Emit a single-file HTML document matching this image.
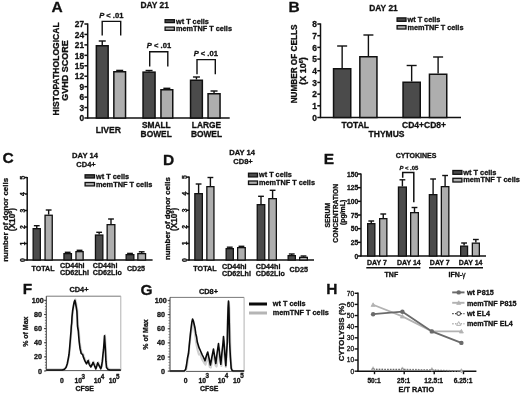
<!DOCTYPE html>
<html><head><meta charset="utf-8"><title>Figure</title>
<style>
html,body{margin:0;padding:0;background:#fff;overflow:hidden;}
svg{display:block;position:absolute;left:0;top:0;font-family:"Liberation Sans",sans-serif;will-change:transform;}
text{stroke:#111;stroke-width:0.3px;stroke-linejoin:round;}
</style></head>
<body>
<svg width="520" height="393" viewBox="0 0 520 393">
<rect width="520" height="393" fill="#fff"/>
<text x="51.5" y="12.3" font-size="15.5" text-anchor="start" font-weight="bold" fill="#111" >A</text>
<text x="154.6" y="8.3" font-size="8.4" text-anchor="middle" font-weight="bold" fill="#111" >DAY 21</text>
<line x1="87.7" y1="23.4" x2="87.7" y2="118.6" stroke="#111" stroke-width="1.5" />
<line x1="84.4" y1="118.0" x2="87.7" y2="118.0" stroke="#111" stroke-width="1.5" />
<text x="84.10000000000001" y="121.1955" font-size="8.3" text-anchor="end" font-weight="bold" fill="#111" >0</text>
<line x1="84.4" y1="107.55555555555556" x2="87.7" y2="107.55555555555556" stroke="#111" stroke-width="1.5" />
<text x="84.10000000000001" y="110.75105555555555" font-size="8.3" text-anchor="end" font-weight="bold" fill="#111" >3</text>
<line x1="84.4" y1="97.11111111111111" x2="87.7" y2="97.11111111111111" stroke="#111" stroke-width="1.5" />
<text x="84.10000000000001" y="100.30661111111111" font-size="8.3" text-anchor="end" font-weight="bold" fill="#111" >6</text>
<line x1="84.4" y1="86.66666666666667" x2="87.7" y2="86.66666666666667" stroke="#111" stroke-width="1.5" />
<text x="84.10000000000001" y="89.86216666666667" font-size="8.3" text-anchor="end" font-weight="bold" fill="#111" >9</text>
<line x1="84.4" y1="76.22222222222223" x2="87.7" y2="76.22222222222223" stroke="#111" stroke-width="1.5" />
<text x="84.10000000000001" y="79.41772222222222" font-size="8.3" text-anchor="end" font-weight="bold" fill="#111" >12</text>
<line x1="84.4" y1="65.77777777777777" x2="87.7" y2="65.77777777777777" stroke="#111" stroke-width="1.5" />
<text x="84.10000000000001" y="68.97327777777777" font-size="8.3" text-anchor="end" font-weight="bold" fill="#111" >15</text>
<line x1="84.4" y1="55.333333333333336" x2="87.7" y2="55.333333333333336" stroke="#111" stroke-width="1.5" />
<text x="84.10000000000001" y="58.52883333333334" font-size="8.3" text-anchor="end" font-weight="bold" fill="#111" >18</text>
<line x1="84.4" y1="44.888888888888886" x2="87.7" y2="44.888888888888886" stroke="#111" stroke-width="1.5" />
<text x="84.10000000000001" y="48.08438888888889" font-size="8.3" text-anchor="end" font-weight="bold" fill="#111" >21</text>
<line x1="84.4" y1="34.44444444444444" x2="87.7" y2="34.44444444444444" stroke="#111" stroke-width="1.5" />
<text x="84.10000000000001" y="37.639944444444446" font-size="8.3" text-anchor="end" font-weight="bold" fill="#111" >24</text>
<line x1="84.4" y1="24.0" x2="87.7" y2="24.0" stroke="#111" stroke-width="1.5" />
<text x="84.10000000000001" y="27.1955" font-size="8.3" text-anchor="end" font-weight="bold" fill="#111" >27</text>
<line x1="87.1" y1="118" x2="229.7" y2="118" stroke="#111" stroke-width="1.5" />
<text transform="translate(58.8,68.9) rotate(-90)" font-size="8.55" text-anchor="middle" font-weight="bold" fill="#111">HISTOPATHOLOGICAL</text>
<text transform="translate(67.8,70.4) rotate(-90)" font-size="9" text-anchor="middle" font-weight="bold" fill="#111">GVHD SCORE</text>
<line x1="102.25" y1="45" x2="102.25" y2="41" stroke="#111" stroke-width="1.4" />
<line x1="98.75" y1="41" x2="105.75" y2="41" stroke="#111" stroke-width="1.4" />
<rect x="96.35" y="45.75" width="11.800000000000011" height="72.25" fill="#4b4b4b" stroke="#111" stroke-width="1.5"/>
<line x1="119.69999999999999" y1="71" x2="119.69999999999999" y2="70.4" stroke="#111" stroke-width="1.4" />
<line x1="116.19999999999999" y1="70.4" x2="123.19999999999999" y2="70.4" stroke="#111" stroke-width="1.4" />
<rect x="113.85" y="71.75" width="11.700000000000003" height="46.25" fill="#aeaeae" stroke="#111" stroke-width="1.5"/>
<line x1="149.05" y1="71.4" x2="149.05" y2="70.5" stroke="#111" stroke-width="1.4" />
<line x1="145.55" y1="70.5" x2="152.55" y2="70.5" stroke="#111" stroke-width="1.4" />
<rect x="143.05" y="72.15" width="12.0" height="45.849999999999994" fill="#4b4b4b" stroke="#111" stroke-width="1.5"/>
<line x1="166.85" y1="89" x2="166.85" y2="88.3" stroke="#111" stroke-width="1.4" />
<line x1="163.35" y1="88.3" x2="170.35" y2="88.3" stroke="#111" stroke-width="1.4" />
<rect x="160.95" y="89.75" width="11.800000000000011" height="28.25" fill="#aeaeae" stroke="#111" stroke-width="1.5"/>
<line x1="196.45" y1="79.5" x2="196.45" y2="77" stroke="#111" stroke-width="1.4" />
<line x1="192.95" y1="77" x2="199.95" y2="77" stroke="#111" stroke-width="1.4" />
<rect x="190.55" y="80.25" width="11.799999999999983" height="37.75" fill="#4b4b4b" stroke="#111" stroke-width="1.5"/>
<line x1="214.05" y1="93" x2="214.05" y2="91" stroke="#111" stroke-width="1.4" />
<line x1="210.55" y1="91" x2="217.55" y2="91" stroke="#111" stroke-width="1.4" />
<rect x="208.05" y="93.75" width="12.0" height="24.25" fill="#aeaeae" stroke="#111" stroke-width="1.5"/>
<polyline points="102.2,35.5 102.2,21.4 120.7,21.4 120.7,35.5" fill="none" stroke="#111" stroke-width="1.4"/>
<text x="111.3" y="18.2" font-size="7.6" text-anchor="middle" font-weight="bold" fill="#111" ><tspan font-style="italic">P</tspan> &lt; .01</text>
<polyline points="149.7,66.4 149.7,51.7 167.8,51.7 167.8,66.4" fill="none" stroke="#111" stroke-width="1.4"/>
<text x="159" y="48" font-size="7.6" text-anchor="middle" font-weight="bold" fill="#111" ><tspan font-style="italic">P</tspan> &lt; .01</text>
<polyline points="197,74.2 197,59.6 215.3,59.6 215.3,74.2" fill="none" stroke="#111" stroke-width="1.4"/>
<text x="205.8" y="56" font-size="7.6" text-anchor="middle" font-weight="bold" fill="#111" ><tspan font-style="italic">P</tspan> &lt; .01</text>
<text x="108.4" y="132.5" font-size="8.6" text-anchor="middle" font-weight="bold" fill="#111" >LIVER</text>
<text x="156.3" y="127.6" font-size="8.4" text-anchor="middle" font-weight="bold" fill="#111" >SMALL</text>
<text x="156.2" y="137.3" font-size="8.4" text-anchor="middle" font-weight="bold" fill="#111" >BOWEL</text>
<text x="206.5" y="127.6" font-size="8.4" text-anchor="middle" font-weight="bold" fill="#111" >LARGE</text>
<text x="206.5" y="137.3" font-size="8.4" text-anchor="middle" font-weight="bold" fill="#111" >BOWEL</text>
<rect x="165.1" y="19.7" width="9.300000000000011" height="2.900000000000002" fill="#4b4b4b" stroke="#111" stroke-width="1.3"/>
<rect x="165.1" y="27.1" width="9.300000000000011" height="3.1999999999999993" fill="#aeaeae" stroke="#111" stroke-width="1.3"/>
<text x="176" y="23.6" font-size="7.3" text-anchor="start" font-weight="bold" fill="#111" >wt T cells</text>
<text x="176" y="31.0" font-size="7.3" text-anchor="start" font-weight="bold" fill="#111" >memTNF T cells</text>
<text x="288.5" y="12.3" font-size="15.5" text-anchor="start" font-weight="bold" fill="#111" >B</text>
<text x="369.3" y="11.3" font-size="8.4" text-anchor="start" font-weight="bold" fill="#111" >DAY 21</text>
<line x1="320.5" y1="23.4" x2="320.5" y2="118.1" stroke="#111" stroke-width="1.5" />
<line x1="317.3" y1="117.5" x2="320.5" y2="117.5" stroke="#111" stroke-width="1.5" />
<text x="317.0" y="120.734" font-size="8.4" text-anchor="end" font-weight="bold" fill="#111" >0</text>
<line x1="317.3" y1="105.8125" x2="320.5" y2="105.8125" stroke="#111" stroke-width="1.5" />
<text x="317.0" y="109.0465" font-size="8.4" text-anchor="end" font-weight="bold" fill="#111" >1</text>
<line x1="317.3" y1="94.125" x2="320.5" y2="94.125" stroke="#111" stroke-width="1.5" />
<text x="317.0" y="97.359" font-size="8.4" text-anchor="end" font-weight="bold" fill="#111" >2</text>
<line x1="317.3" y1="82.4375" x2="320.5" y2="82.4375" stroke="#111" stroke-width="1.5" />
<text x="317.0" y="85.6715" font-size="8.4" text-anchor="end" font-weight="bold" fill="#111" >3</text>
<line x1="317.3" y1="70.75" x2="320.5" y2="70.75" stroke="#111" stroke-width="1.5" />
<text x="317.0" y="73.984" font-size="8.4" text-anchor="end" font-weight="bold" fill="#111" >4</text>
<line x1="317.3" y1="59.0625" x2="320.5" y2="59.0625" stroke="#111" stroke-width="1.5" />
<text x="317.0" y="62.2965" font-size="8.4" text-anchor="end" font-weight="bold" fill="#111" >5</text>
<line x1="317.3" y1="47.375" x2="320.5" y2="47.375" stroke="#111" stroke-width="1.5" />
<text x="317.0" y="50.609" font-size="8.4" text-anchor="end" font-weight="bold" fill="#111" >6</text>
<line x1="317.3" y1="35.6875" x2="320.5" y2="35.6875" stroke="#111" stroke-width="1.5" />
<text x="317.0" y="38.9215" font-size="8.4" text-anchor="end" font-weight="bold" fill="#111" >7</text>
<line x1="317.3" y1="24.0" x2="320.5" y2="24.0" stroke="#111" stroke-width="1.5" />
<text x="317.0" y="27.234" font-size="8.4" text-anchor="end" font-weight="bold" fill="#111" >8</text>
<line x1="319.9" y1="117.5" x2="461" y2="117.5" stroke="#111" stroke-width="1.5" />
<text transform="translate(296.7,64) rotate(-90)" font-size="8.2" text-anchor="middle" font-weight="bold" fill="#111">NUMBER OF CELLS</text>
<text transform="translate(306.2,71) rotate(-90)" font-size="9" text-anchor="middle" font-weight="bold" fill="#111">(X 10<tspan font-size="5.5" dy="-3.4">6</tspan><tspan dy="3.4">)</tspan></text>
<line x1="342.15" y1="68" x2="342.15" y2="46" stroke="#111" stroke-width="1.4" />
<line x1="337.15" y1="46" x2="347.15" y2="46" stroke="#111" stroke-width="1.4" />
<rect x="333.55" y="68.75" width="17.19999999999999" height="48.75" fill="#4b4b4b" stroke="#111" stroke-width="1.5"/>
<line x1="368.4" y1="56" x2="368.4" y2="35" stroke="#111" stroke-width="1.4" />
<line x1="363.4" y1="35" x2="373.4" y2="35" stroke="#111" stroke-width="1.4" />
<rect x="359.85" y="56.75" width="17.099999999999966" height="60.75" fill="#aeaeae" stroke="#111" stroke-width="1.5"/>
<line x1="411.65" y1="81.5" x2="411.65" y2="65.5" stroke="#111" stroke-width="1.4" />
<line x1="406.65" y1="65.5" x2="416.65" y2="65.5" stroke="#111" stroke-width="1.4" />
<rect x="403.05" y="82.25" width="17.19999999999999" height="35.25" fill="#4b4b4b" stroke="#111" stroke-width="1.5"/>
<line x1="438.1" y1="73.5" x2="438.1" y2="57" stroke="#111" stroke-width="1.4" />
<line x1="433.1" y1="57" x2="443.1" y2="57" stroke="#111" stroke-width="1.4" />
<rect x="429.45" y="74.25" width="17.30000000000001" height="43.25" fill="#aeaeae" stroke="#111" stroke-width="1.5"/>
<text x="355.2" y="128.2" font-size="8.5" text-anchor="middle" font-weight="bold" fill="#111" >TOTAL</text>
<text x="386.5" y="136.7" font-size="8.5" text-anchor="middle" font-weight="bold" fill="#111" >THYMUS</text>
<text x="424" y="128.2" font-size="8.5" text-anchor="middle" font-weight="bold" fill="#111" >CD4+CD8+</text>
<rect x="397.1" y="17.9" width="8.899999999999977" height="3.400000000000002" fill="#4b4b4b" stroke="#111" stroke-width="1.3"/>
<rect x="397.1" y="25.6" width="8.899999999999977" height="3.3999999999999986" fill="#aeaeae" stroke="#111" stroke-width="1.3"/>
<text x="407.5" y="21.9" font-size="7.3" text-anchor="start" font-weight="bold" fill="#111" >wt T cells</text>
<text x="407.5" y="29.7" font-size="7.3" text-anchor="start" font-weight="bold" fill="#111" >memTNF T cells</text>
<text x="2.4" y="162.8" font-size="15.5" text-anchor="start" font-weight="bold" fill="#111" >C</text>
<text x="85" y="158.4" font-size="7.6" text-anchor="middle" font-weight="bold" fill="#111" >DAY 14</text>
<text x="86" y="167.3" font-size="7.5" text-anchor="middle" font-weight="bold" fill="#111" >CD4+</text>
<line x1="27.2" y1="176.9" x2="27.2" y2="260.6" stroke="#111" stroke-width="1.5" />
<line x1="24.8" y1="260.0" x2="27.2" y2="260.0" stroke="#111" stroke-width="1.5" />
<text transform="translate(25.0,260.0) rotate(-90)" font-size="6.8" text-anchor="middle" font-weight="bold" fill="#111">0</text>
<line x1="24.8" y1="243.5" x2="27.2" y2="243.5" stroke="#111" stroke-width="1.5" />
<text transform="translate(25.0,243.5) rotate(-90)" font-size="6.8" text-anchor="middle" font-weight="bold" fill="#111">1</text>
<line x1="24.8" y1="227.0" x2="27.2" y2="227.0" stroke="#111" stroke-width="1.5" />
<text transform="translate(25.0,227.0) rotate(-90)" font-size="6.8" text-anchor="middle" font-weight="bold" fill="#111">2</text>
<line x1="24.8" y1="210.5" x2="27.2" y2="210.5" stroke="#111" stroke-width="1.5" />
<text transform="translate(25.0,210.5) rotate(-90)" font-size="6.8" text-anchor="middle" font-weight="bold" fill="#111">3</text>
<line x1="24.8" y1="194.0" x2="27.2" y2="194.0" stroke="#111" stroke-width="1.5" />
<text transform="translate(25.0,194.0) rotate(-90)" font-size="6.8" text-anchor="middle" font-weight="bold" fill="#111">4</text>
<line x1="24.8" y1="177.5" x2="27.2" y2="177.5" stroke="#111" stroke-width="1.5" />
<text transform="translate(25.0,177.5) rotate(-90)" font-size="6.8" text-anchor="middle" font-weight="bold" fill="#111">5</text>
<line x1="26.5" y1="260" x2="152.6" y2="260" stroke="#111" stroke-width="1.5" />
<text transform="translate(8.3,219.8) rotate(-90)" font-size="8.0" text-anchor="middle" font-weight="bold" fill="#111">number of donor cells</text>
<text transform="translate(15.4,219.6) rotate(-90)" font-size="8.3" text-anchor="middle" font-weight="bold" fill="#111">(X10<tspan font-size="5.4" dy="-3.1">6</tspan><tspan dy="3.1">)</tspan></text>
<line x1="36.75" y1="228" x2="36.75" y2="225.7" stroke="#111" stroke-width="1.4" />
<line x1="33.85" y1="225.7" x2="39.65" y2="225.7" stroke="#111" stroke-width="1.4" />
<rect x="33.15" y="228.65" width="7.2" height="31.35" fill="#4b4b4b" stroke="#111" stroke-width="1.3"/>
<line x1="48.65" y1="214.6" x2="48.65" y2="210" stroke="#111" stroke-width="1.4" />
<line x1="45.75" y1="210" x2="51.55" y2="210" stroke="#111" stroke-width="1.4" />
<rect x="45.05" y="215.25" width="7.2" height="44.75000000000001" fill="#aeaeae" stroke="#111" stroke-width="1.3"/>
<line x1="67.69999999999999" y1="253" x2="67.69999999999999" y2="252.3" stroke="#111" stroke-width="1.4" />
<line x1="64.79999999999998" y1="252.3" x2="70.6" y2="252.3" stroke="#111" stroke-width="1.4" />
<rect x="63.949999999999996" y="253.65" width="7.499999999999997" height="6.35" fill="#4b4b4b" stroke="#111" stroke-width="1.3"/>
<line x1="79.55" y1="251" x2="79.55" y2="250.3" stroke="#111" stroke-width="1.4" />
<line x1="76.64999999999999" y1="250.3" x2="82.45" y2="250.3" stroke="#111" stroke-width="1.4" />
<rect x="75.95" y="251.65" width="7.2" height="8.35" fill="#aeaeae" stroke="#111" stroke-width="1.3"/>
<line x1="99.15" y1="234.4" x2="99.15" y2="232.3" stroke="#111" stroke-width="1.4" />
<line x1="96.25" y1="232.3" x2="102.05000000000001" y2="232.3" stroke="#111" stroke-width="1.4" />
<rect x="95.45" y="235.05" width="7.400000000000003" height="24.949999999999996" fill="#4b4b4b" stroke="#111" stroke-width="1.3"/>
<line x1="111.0" y1="224" x2="111.0" y2="219" stroke="#111" stroke-width="1.4" />
<line x1="108.1" y1="219" x2="113.9" y2="219" stroke="#111" stroke-width="1.4" />
<rect x="107.15" y="224.65" width="7.7" height="35.35" fill="#aeaeae" stroke="#111" stroke-width="1.3"/>
<line x1="130.0" y1="254" x2="130.0" y2="253.4" stroke="#111" stroke-width="1.4" />
<line x1="127.1" y1="253.4" x2="132.9" y2="253.4" stroke="#111" stroke-width="1.4" />
<rect x="126.15" y="254.65" width="7.7" height="5.35" fill="#4b4b4b" stroke="#111" stroke-width="1.3"/>
<line x1="141.7" y1="253" x2="141.7" y2="251.8" stroke="#111" stroke-width="1.4" />
<line x1="138.79999999999998" y1="251.8" x2="144.6" y2="251.8" stroke="#111" stroke-width="1.4" />
<rect x="137.85" y="253.65" width="7.7" height="6.35" fill="#aeaeae" stroke="#111" stroke-width="1.3"/>
<text x="43" y="270.6" font-size="7.1" text-anchor="middle" font-weight="bold" fill="#111" >TOTAL</text>
<text x="60" y="268.4" font-size="7.15" text-anchor="start" font-weight="bold" fill="#111" >CD44hi</text>
<text x="60" y="274.8" font-size="7.15" text-anchor="start" font-weight="bold" fill="#111" >CD62Lhi</text>
<text x="92.8" y="268.4" font-size="7.15" text-anchor="start" font-weight="bold" fill="#111" >CD44hi</text>
<text x="92.8" y="274.8" font-size="7.15" text-anchor="start" font-weight="bold" fill="#111" >CD62Llo</text>
<text x="136" y="271.1" font-size="7.1" text-anchor="middle" font-weight="bold" fill="#111" >CD25</text>
<rect x="85.1" y="174.8" width="9.400000000000006" height="3.1999999999999886" fill="#4b4b4b" stroke="#111" stroke-width="1.3"/>
<rect x="85.1" y="182.5" width="9.400000000000006" height="3.4000000000000057" fill="#aeaeae" stroke="#111" stroke-width="1.3"/>
<text x="96" y="178.8" font-size="7.35" text-anchor="start" font-weight="bold" fill="#111" >wt T cells</text>
<text x="96" y="186.5" font-size="7.35" text-anchor="start" font-weight="bold" fill="#111" >memTNF T cells</text>
<text x="163" y="164.8" font-size="15.5" text-anchor="start" font-weight="bold" fill="#111" >D</text>
<text x="242.2" y="155.2" font-size="7.6" text-anchor="middle" font-weight="bold" fill="#111" >DAY 14</text>
<text x="243" y="164" font-size="7.5" text-anchor="middle" font-weight="bold" fill="#111" >CD8+</text>
<line x1="189.1" y1="176.5" x2="189.1" y2="260.6" stroke="#111" stroke-width="1.5" />
<line x1="186.7" y1="260.0" x2="189.1" y2="260.0" stroke="#111" stroke-width="1.5" />
<text transform="translate(186.89999999999998,260.0) rotate(-90)" font-size="6.8" text-anchor="middle" font-weight="bold" fill="#111">0</text>
<line x1="186.7" y1="243.42" x2="189.1" y2="243.42" stroke="#111" stroke-width="1.5" />
<text transform="translate(186.89999999999998,243.42) rotate(-90)" font-size="6.8" text-anchor="middle" font-weight="bold" fill="#111">1</text>
<line x1="186.7" y1="226.84" x2="189.1" y2="226.84" stroke="#111" stroke-width="1.5" />
<text transform="translate(186.89999999999998,226.84) rotate(-90)" font-size="6.8" text-anchor="middle" font-weight="bold" fill="#111">2</text>
<line x1="186.7" y1="210.26" x2="189.1" y2="210.26" stroke="#111" stroke-width="1.5" />
<text transform="translate(186.89999999999998,210.26) rotate(-90)" font-size="6.8" text-anchor="middle" font-weight="bold" fill="#111">3</text>
<line x1="186.7" y1="193.68" x2="189.1" y2="193.68" stroke="#111" stroke-width="1.5" />
<text transform="translate(186.89999999999998,193.68) rotate(-90)" font-size="6.8" text-anchor="middle" font-weight="bold" fill="#111">4</text>
<line x1="186.7" y1="177.1" x2="189.1" y2="177.1" stroke="#111" stroke-width="1.5" />
<text transform="translate(186.89999999999998,177.1) rotate(-90)" font-size="6.8" text-anchor="middle" font-weight="bold" fill="#111">5</text>
<line x1="188.4" y1="260" x2="314" y2="260" stroke="#111" stroke-width="1.5" />
<text transform="translate(169.8,218.6) rotate(-90)" font-size="7.9" text-anchor="middle" font-weight="bold" fill="#111">number of donor cells</text>
<text transform="translate(177.3,219.4) rotate(-90)" font-size="8.3" text-anchor="middle" font-weight="bold" fill="#111">(X10<tspan font-size="5.4" dy="-3.1">6</tspan><tspan dy="3.1">)</tspan></text>
<line x1="198.6" y1="193" x2="198.6" y2="184" stroke="#111" stroke-width="1.4" />
<line x1="195.7" y1="184" x2="201.5" y2="184" stroke="#111" stroke-width="1.4" />
<rect x="194.85" y="193.65" width="7.5000000000000115" height="66.35" fill="#4b4b4b" stroke="#111" stroke-width="1.3"/>
<line x1="210.39999999999998" y1="186" x2="210.39999999999998" y2="177.5" stroke="#111" stroke-width="1.4" />
<line x1="207.49999999999997" y1="177.5" x2="213.29999999999998" y2="177.5" stroke="#111" stroke-width="1.4" />
<rect x="206.85" y="186.65" width="7.100000000000006" height="73.35" fill="#aeaeae" stroke="#111" stroke-width="1.3"/>
<line x1="229.75" y1="248" x2="229.75" y2="247.2" stroke="#111" stroke-width="1.4" />
<line x1="226.85" y1="247.2" x2="232.65" y2="247.2" stroke="#111" stroke-width="1.4" />
<rect x="226.15" y="248.65" width="7.2" height="11.35" fill="#4b4b4b" stroke="#111" stroke-width="1.3"/>
<line x1="241.45" y1="247" x2="241.45" y2="246.3" stroke="#111" stroke-width="1.4" />
<line x1="238.54999999999998" y1="246.3" x2="244.35" y2="246.3" stroke="#111" stroke-width="1.4" />
<rect x="237.65" y="247.65" width="7.600000000000006" height="12.35" fill="#aeaeae" stroke="#111" stroke-width="1.3"/>
<line x1="261.0" y1="204" x2="261.0" y2="196.3" stroke="#111" stroke-width="1.4" />
<line x1="258.1" y1="196.3" x2="263.9" y2="196.3" stroke="#111" stroke-width="1.4" />
<rect x="257.25" y="204.65" width="7.499999999999955" height="55.35" fill="#4b4b4b" stroke="#111" stroke-width="1.3"/>
<line x1="272.6" y1="198" x2="272.6" y2="190.3" stroke="#111" stroke-width="1.4" />
<line x1="269.70000000000005" y1="190.3" x2="275.5" y2="190.3" stroke="#111" stroke-width="1.4" />
<rect x="268.84999999999997" y="198.65" width="7.5000000000000115" height="61.35" fill="#aeaeae" stroke="#111" stroke-width="1.3"/>
<line x1="291.75" y1="255" x2="291.75" y2="254" stroke="#111" stroke-width="1.4" />
<line x1="288.85" y1="254" x2="294.65" y2="254" stroke="#111" stroke-width="1.4" />
<rect x="288.15" y="255.65" width="7.2" height="4.35" fill="#4b4b4b" stroke="#111" stroke-width="1.3"/>
<line x1="303.5" y1="256.7" x2="303.5" y2="256" stroke="#111" stroke-width="1.4" />
<line x1="300.6" y1="256" x2="306.4" y2="256" stroke="#111" stroke-width="1.4" />
<rect x="299.65" y="257.34999999999997" width="7.7" height="2.6500000000000115" fill="#aeaeae" stroke="#111" stroke-width="1.3"/>
<text x="205" y="271.3" font-size="7.2" text-anchor="middle" font-weight="bold" fill="#111" >TOTAL</text>
<text x="222" y="268.8" font-size="7.15" text-anchor="start" font-weight="bold" fill="#111" >CD44hi</text>
<text x="222" y="276" font-size="7.15" text-anchor="start" font-weight="bold" fill="#111" >CD62Lhi</text>
<text x="255.8" y="268.8" font-size="7.15" text-anchor="start" font-weight="bold" fill="#111" >CD44hi</text>
<text x="255.8" y="276" font-size="7.15" text-anchor="start" font-weight="bold" fill="#111" >CD62Llo</text>
<text x="298.8" y="271.6" font-size="7.2" text-anchor="middle" font-weight="bold" fill="#111" >CD25</text>
<rect x="248.5" y="173.2" width="9" height="3.700000000000017" fill="#4b4b4b" stroke="#111" stroke-width="1.3"/>
<rect x="248.5" y="181.0" width="9" height="3.5" fill="#aeaeae" stroke="#111" stroke-width="1.3"/>
<text x="259" y="176.8" font-size="7.3" text-anchor="start" font-weight="bold" fill="#111" >wt T cells</text>
<text x="259" y="185" font-size="7.3" text-anchor="start" font-weight="bold" fill="#111" >memTNF T cells</text>
<text x="323.7" y="163.8" font-size="15.5" text-anchor="start" font-weight="bold" fill="#111" >E</text>
<text x="416" y="157.5" font-size="7" text-anchor="middle" font-weight="bold" fill="#111" >CYTOKINES</text>
<line x1="361" y1="173.4" x2="361" y2="256.6" stroke="#111" stroke-width="1.5" />
<line x1="358" y1="256.0" x2="361" y2="256.0" stroke="#111" stroke-width="1.5" />
<text x="358.2" y="258.5795" font-size="6.7" text-anchor="end" font-weight="bold" fill="#111" >0</text>
<line x1="358" y1="242.33333333333334" x2="361" y2="242.33333333333334" stroke="#111" stroke-width="1.5" />
<text x="358.2" y="244.91283333333334" font-size="6.7" text-anchor="end" font-weight="bold" fill="#111" >25</text>
<line x1="358" y1="228.66666666666666" x2="361" y2="228.66666666666666" stroke="#111" stroke-width="1.5" />
<text x="358.2" y="231.24616666666665" font-size="6.7" text-anchor="end" font-weight="bold" fill="#111" >50</text>
<line x1="358" y1="215.0" x2="361" y2="215.0" stroke="#111" stroke-width="1.5" />
<text x="358.2" y="217.5795" font-size="6.7" text-anchor="end" font-weight="bold" fill="#111" >75</text>
<line x1="358" y1="201.33333333333334" x2="361" y2="201.33333333333334" stroke="#111" stroke-width="1.5" />
<text x="358.2" y="203.91283333333334" font-size="6.7" text-anchor="end" font-weight="bold" fill="#111" >100</text>
<line x1="358" y1="187.66666666666669" x2="361" y2="187.66666666666669" stroke="#111" stroke-width="1.5" />
<text x="358.2" y="190.24616666666668" font-size="6.7" text-anchor="end" font-weight="bold" fill="#111" >125</text>
<line x1="358" y1="174.0" x2="361" y2="174.0" stroke="#111" stroke-width="1.5" />
<text x="358.2" y="176.5795" font-size="6.7" text-anchor="end" font-weight="bold" fill="#111" >150</text>
<line x1="360.4" y1="256" x2="486" y2="256" stroke="#111" stroke-width="1.5" />
<text transform="translate(330.4,215.2) rotate(-90)" font-size="6.8" text-anchor="middle" font-weight="bold" fill="#111">SERUM</text>
<text transform="translate(337.8,213.3) rotate(-90)" font-size="6.75" text-anchor="middle" font-weight="bold" fill="#111">CONCENTRATION</text>
<text transform="translate(344.8,212.4) rotate(-90)" font-size="6.9" text-anchor="middle" font-weight="bold" fill="#111">(pg/mL)</text>
<line x1="371.25" y1="223" x2="371.25" y2="221" stroke="#111" stroke-width="1.4" />
<line x1="368.35" y1="221" x2="374.15" y2="221" stroke="#111" stroke-width="1.4" />
<rect x="367.65" y="223.65" width="7.2" height="32.35" fill="#4b4b4b" stroke="#111" stroke-width="1.3"/>
<line x1="383.25" y1="218" x2="383.25" y2="214" stroke="#111" stroke-width="1.4" />
<line x1="380.35" y1="214" x2="386.15" y2="214" stroke="#111" stroke-width="1.4" />
<rect x="379.65" y="218.65" width="7.2" height="37.35" fill="#aeaeae" stroke="#111" stroke-width="1.3"/>
<line x1="402.4" y1="186.4" x2="402.4" y2="179.8" stroke="#111" stroke-width="1.4" />
<line x1="399.5" y1="179.8" x2="405.29999999999995" y2="179.8" stroke="#111" stroke-width="1.4" />
<rect x="398.45" y="187.05" width="7.899999999999989" height="68.94999999999999" fill="#4b4b4b" stroke="#111" stroke-width="1.3"/>
<line x1="414.5" y1="212" x2="414.5" y2="207.5" stroke="#111" stroke-width="1.4" />
<line x1="411.6" y1="207.5" x2="417.4" y2="207.5" stroke="#111" stroke-width="1.4" />
<rect x="410.65" y="212.65" width="7.7" height="43.35" fill="#aeaeae" stroke="#111" stroke-width="1.3"/>
<line x1="433.1" y1="194" x2="433.1" y2="179" stroke="#111" stroke-width="1.4" />
<line x1="430.20000000000005" y1="179" x2="436.0" y2="179" stroke="#111" stroke-width="1.4" />
<rect x="429.34999999999997" y="194.65" width="7.5000000000000115" height="61.35" fill="#4b4b4b" stroke="#111" stroke-width="1.3"/>
<line x1="445.1" y1="186" x2="445.1" y2="175.5" stroke="#111" stroke-width="1.4" />
<line x1="442.20000000000005" y1="175.5" x2="448.0" y2="175.5" stroke="#111" stroke-width="1.4" />
<rect x="441.34999999999997" y="186.65" width="7.5000000000000115" height="69.35" fill="#aeaeae" stroke="#111" stroke-width="1.3"/>
<line x1="464.1" y1="245.5" x2="464.1" y2="243" stroke="#111" stroke-width="1.4" />
<line x1="461.20000000000005" y1="243" x2="467.0" y2="243" stroke="#111" stroke-width="1.4" />
<rect x="460.65" y="246.15" width="6.899999999999989" height="9.85" fill="#4b4b4b" stroke="#111" stroke-width="1.3"/>
<line x1="475.85" y1="242.5" x2="475.85" y2="239.5" stroke="#111" stroke-width="1.4" />
<line x1="472.95000000000005" y1="239.5" x2="478.75" y2="239.5" stroke="#111" stroke-width="1.4" />
<rect x="472.34999999999997" y="243.15" width="7.0000000000000115" height="12.85" fill="#aeaeae" stroke="#111" stroke-width="1.3"/>
<polyline points="402.7,177.8 402.7,172.6 413.8,172.6 413.8,202.2" fill="none" stroke="#111" stroke-width="1.5"/>
<text x="408.8" y="170.2" font-size="5.9" text-anchor="middle" font-weight="bold" fill="#111" ><tspan font-style="italic">P</tspan> &lt; .05</text>
<text x="377" y="265" font-size="7" text-anchor="middle" font-weight="bold" fill="#111" >DAY 7</text>
<text x="408.8" y="265" font-size="7" text-anchor="middle" font-weight="bold" fill="#111" >DAY 14</text>
<text x="439.8" y="265" font-size="7" text-anchor="middle" font-weight="bold" fill="#111" >DAY 7</text>
<text x="470.6" y="265" font-size="7" text-anchor="middle" font-weight="bold" fill="#111" >DAY 14</text>
<line x1="366.3" y1="267.8" x2="420.4" y2="267.8" stroke="#111" stroke-width="1.4" />
<line x1="429" y1="267.8" x2="483" y2="267.8" stroke="#111" stroke-width="1.4" />
<text x="391.4" y="277" font-size="7" text-anchor="middle" font-weight="bold" fill="#111" >TNF</text>
<text x="457" y="277" font-size="7" text-anchor="middle" font-weight="bold" fill="#111" >IFN-<tspan font-weight="normal">&#947;</tspan></text>
<rect x="452.9" y="170.5" width="9.0" height="3.8000000000000114" fill="#4b4b4b" stroke="#111" stroke-width="1.3"/>
<rect x="452.9" y="178.3" width="9.0" height="3.6999999999999886" fill="#aeaeae" stroke="#111" stroke-width="1.3"/>
<text x="463.2" y="174.7" font-size="7.4" text-anchor="start" font-weight="bold" fill="#111" >wt T cells</text>
<text x="463.2" y="182.2" font-size="7.4" text-anchor="start" font-weight="bold" fill="#111" >memTNF T cells</text>
<text x="22.7" y="293.7" font-size="15.5" text-anchor="start" font-weight="bold" fill="#111" >F</text>
<text x="79" y="292" font-size="7.4" text-anchor="middle" font-weight="bold" fill="#111" >CD4+</text>
<line x1="46.3" y1="296.2" x2="120.8" y2="296.2" stroke="#6a6a6a" stroke-width="0.9" />
<line x1="120.8" y1="296.2" x2="120.8" y2="370.6" stroke="#a8a8a8" stroke-width="0.9" />
<line x1="46.3" y1="370.6" x2="120.8" y2="370.6" stroke="#444" stroke-width="0.9" />
<line x1="46.3" y1="296.2" x2="46.3" y2="370.6" stroke="#3a3a3a" stroke-width="1.0" />
<line x1="45.4" y1="300.3" x2="45.4" y2="371.0" stroke="#555" stroke-width="1" stroke-dasharray="0.9,1.9"/>
<line x1="44.0" y1="371.0" x2="46.3" y2="371.0" stroke="#333" stroke-width="0.9" />
<text x="42.0" y="373.6" font-size="7.2" text-anchor="end" font-weight="bold" fill="#111" >0</text>
<line x1="44.0" y1="356.86" x2="46.3" y2="356.86" stroke="#333" stroke-width="0.9" />
<text x="42.0" y="359.46000000000004" font-size="7.2" text-anchor="end" font-weight="bold" fill="#111" >20</text>
<line x1="44.0" y1="342.72" x2="46.3" y2="342.72" stroke="#333" stroke-width="0.9" />
<text x="42.0" y="345.32000000000005" font-size="7.2" text-anchor="end" font-weight="bold" fill="#111" >40</text>
<line x1="44.0" y1="328.58" x2="46.3" y2="328.58" stroke="#333" stroke-width="0.9" />
<text x="42.0" y="331.18" font-size="7.2" text-anchor="end" font-weight="bold" fill="#111" >60</text>
<line x1="44.0" y1="314.44" x2="46.3" y2="314.44" stroke="#333" stroke-width="0.9" />
<text x="42.0" y="317.04" font-size="7.2" text-anchor="end" font-weight="bold" fill="#111" >80</text>
<line x1="44.0" y1="300.3" x2="46.3" y2="300.3" stroke="#333" stroke-width="0.9" />
<text x="43.8" y="302.90000000000003" font-size="7.2" text-anchor="end" font-weight="bold" fill="#111" >100</text>
<text transform="translate(28.4,331.7) rotate(-90)" font-size="7.0" text-anchor="middle" font-weight="bold" fill="#111">% of Max</text>
<polyline points="46.9,369.1 62.9,369.1 65.1,368.3 66.6,366.6 67.8,363.1 68.8,358.1 69.6,353.6 70.39999999999999,345.1 71.19999999999999,335.1 71.6,330.6 71.89999999999999,325.1 72.3,322.1 72.6,316.1 73.19999999999999,310.1 74.0,305.1 74.8,301.1 75.44999999999999,299.3 76.1,302.1 76.8,306.1 77.5,310.5 77.8,317.1 78.1,325.1 78.89999999999999,330.1 79.19999999999999,334.1 79.8,341.1 80.6,347.3 81.8,352.6 83.3,353.8 84.1,356.5 85.6,360.3 87.1,363.0 88.0,361.1 88.69999999999999,359.6 89.8,363.40000000000003 91.39999999999999,366.1 92.8,363.6 93.69999999999999,361.5 94.8,364.1 96.39999999999999,368.0 97.5,364.6 98.3,361.90000000000003 99.8,364.90000000000003 101.39999999999999,368.0 102.19999999999999,365.1 102.89999999999999,360.3 103.6,353.1 104.1,348.8 104.69999999999999,341.1 105.1,334.90000000000003 105.5,341.1 106.0,348.8 106.5,360.3 107.1,366.5 108.69999999999999,368.5 110.6,369.1 121.39999999999999,369.1" fill="none" stroke="#d2d2d2" stroke-width="1.8" stroke-linejoin="round"/>
<polyline points="46.3,370.0 62.3,370.0 64.5,369.2 66,367.5 67.2,364 68.2,359 69,354.5 69.8,346 70.6,336 71.0,331.5 71.3,326 71.7,323 72,317 72.6,311 73.4,306 74.2,302 74.85,300.2 75.5,303 76.2,307 76.9,311.4 77.2,318 77.5,326 78.3,331 78.6,335 79.2,342 80,348.2 81.2,353.5 82.7,354.7 83.5,357.4 85,361.2 86.5,363.9 87.4,362 88.1,360.5 89.2,364.3 90.8,367 92.2,364.5 93.1,362.4 94.2,365 95.8,368.9 96.9,365.5 97.7,362.8 99.2,365.8 100.8,368.9 101.6,366 102.3,361.2 103,354 103.5,349.7 104.1,342 104.5,335.8 104.9,342 105.4,349.7 105.9,361.2 106.5,367.4 108.1,369.4 110,370.0 120.8,370.0" fill="none" stroke="#0a0a0a" stroke-width="1.6" stroke-linejoin="round"/>
<text x="61.8" y="383" font-size="6.8" text-anchor="middle" font-weight="bold" fill="#111" >0</text>
<text x="82" y="383" font-size="6.8" text-anchor="end" font-weight="bold" fill="#111" >10</text>
<text x="81.6" y="379.0" font-size="6.3" text-anchor="start" font-weight="bold" fill="#111" >3</text>
<text x="101.2" y="383" font-size="6.8" text-anchor="end" font-weight="bold" fill="#111" >10</text>
<text x="100.8" y="379.0" font-size="6.3" text-anchor="start" font-weight="bold" fill="#111" >4</text>
<text x="116.4" y="383" font-size="6.8" text-anchor="end" font-weight="bold" fill="#111" >10</text>
<text x="116.0" y="379.0" font-size="6.3" text-anchor="start" font-weight="bold" fill="#111" >5</text>
<text x="84.7" y="391" font-size="6.95" text-anchor="middle" font-weight="bold" fill="#111" >CFSE</text>
<text x="140.5" y="294.6" font-size="15.5" text-anchor="start" font-weight="bold" fill="#111" >G</text>
<text x="208.5" y="293.8" font-size="7.4" text-anchor="middle" font-weight="bold" fill="#111" >CD8+</text>
<line x1="170" y1="297.4" x2="244.1" y2="297.4" stroke="#6a6a6a" stroke-width="0.9" />
<line x1="244.1" y1="297.4" x2="244.1" y2="371.4" stroke="#a8a8a8" stroke-width="0.9" />
<line x1="170" y1="371.4" x2="244.1" y2="371.4" stroke="#444" stroke-width="0.9" />
<line x1="170" y1="297.4" x2="170" y2="371.4" stroke="#3a3a3a" stroke-width="1.0" />
<line x1="169.1" y1="300.4" x2="169.1" y2="371.2" stroke="#555" stroke-width="1" stroke-dasharray="0.9,1.9"/>
<line x1="167.7" y1="371.2" x2="170" y2="371.2" stroke="#333" stroke-width="0.9" />
<text x="165.0" y="373.8" font-size="7.2" text-anchor="end" font-weight="bold" fill="#111" >0</text>
<line x1="167.7" y1="357.03999999999996" x2="170" y2="357.03999999999996" stroke="#333" stroke-width="0.9" />
<text x="165.0" y="359.64" font-size="7.2" text-anchor="end" font-weight="bold" fill="#111" >20</text>
<line x1="167.7" y1="342.88" x2="170" y2="342.88" stroke="#333" stroke-width="0.9" />
<text x="165.0" y="345.48" font-size="7.2" text-anchor="end" font-weight="bold" fill="#111" >40</text>
<line x1="167.7" y1="328.71999999999997" x2="170" y2="328.71999999999997" stroke="#333" stroke-width="0.9" />
<text x="165.0" y="331.32" font-size="7.2" text-anchor="end" font-weight="bold" fill="#111" >60</text>
<line x1="167.7" y1="314.56" x2="170" y2="314.56" stroke="#333" stroke-width="0.9" />
<text x="165.0" y="317.16" font-size="7.2" text-anchor="end" font-weight="bold" fill="#111" >80</text>
<line x1="167.7" y1="300.4" x2="170" y2="300.4" stroke="#333" stroke-width="0.9" />
<text x="166.8" y="303.0" font-size="7.2" text-anchor="end" font-weight="bold" fill="#111" >100</text>
<text transform="translate(148.4,334.5) rotate(-90)" font-size="7.0" text-anchor="middle" font-weight="bold" fill="#111">% of Max</text>
<polyline points="170,371.2 185,371.2 186.6,368 188.2,357 189.6,344 191.0,333 192.2,326 193.2,323.5 194,326 194.8,332 195.8,340 196.8,346 197.8,350.5 199,354.5 200.3,354 201.3,357 202.5,360 204,362.5 205.5,364.5 206.5,360.5 207.6,356.5 208.6,361 209.8,367 210.8,367.5 211.9,362 212.9,356 213.7,353.5 214.6,359 215.6,365.5 216.5,366.5 217.5,360 218.4,351 219.0,348 219.8,354 220.6,362 221.4,366 222.3,358 223.0,348 223.6,341 224.2,345 224.9,356 225.8,367 226.6,356 227.2,338 227.8,318 228.4,306 228.9,302.5 229.3,308 229.8,325 230.3,348 230.9,361 231.6,369 233,371.2 244.1,371.2" fill="none" stroke="#cfcfcf" stroke-width="2.2" stroke-linejoin="round"/>
<polyline points="170,371.0 184.2,371.0 185.6,369.5 186.5,365 187.5,358 188.5,353.5 189.2,346 189.6,342 190.4,334 191.2,327 191.9,322 192.6,319 193.4,321 194.2,324.5 195.0,328 195.8,333.7 196.6,337 197.3,342 198.2,345 199.2,348.2 200,349.7 201.2,352.5 202.3,355 203.6,357.5 205,360.8 206.3,356 207.7,352 209,358 210.4,365 211.9,357 213.5,349 214.6,356 215.8,363.5 217.1,353 218.5,343.5 219.6,354 220.8,364.3 221.9,353 223.1,342 223.5,336.5 224,342 224.9,355 225.8,365.8 226.5,354 227.3,342 227.7,322 228.1,308 228.5,301 228.9,308 229.3,325 229.6,342 230.0,350 230.4,357.4 231.2,368.2 232,370.3 233,371.0 244.1,371.0" fill="none" stroke="#0a0a0a" stroke-width="1.6" stroke-linejoin="round"/>
<text x="185.7" y="383" font-size="6.8" text-anchor="middle" font-weight="bold" fill="#111" >0</text>
<text x="206" y="383" font-size="6.8" text-anchor="end" font-weight="bold" fill="#111" >10</text>
<text x="205.6" y="378.1" font-size="6.3" text-anchor="start" font-weight="bold" fill="#111" >3</text>
<text x="225.2" y="383" font-size="6.8" text-anchor="end" font-weight="bold" fill="#111" >10</text>
<text x="224.79999999999998" y="378.1" font-size="6.3" text-anchor="start" font-weight="bold" fill="#111" >4</text>
<text x="240.6" y="383" font-size="6.8" text-anchor="end" font-weight="bold" fill="#111" >10</text>
<text x="240.2" y="378.1" font-size="6.3" text-anchor="start" font-weight="bold" fill="#111" >5</text>
<text x="209.2" y="391.3" font-size="6.95" text-anchor="middle" font-weight="bold" fill="#111" >CFSE</text>
<line x1="249" y1="304" x2="267" y2="304" stroke="#0a0a0a" stroke-width="3" />
<line x1="249" y1="313" x2="267" y2="313" stroke="#b5b5b5" stroke-width="3" />
<text x="272.8" y="305.9" font-size="7.3" text-anchor="start" font-weight="bold" fill="#111" >wt T cells</text>
<text x="272.8" y="315.2" font-size="7.3" text-anchor="start" font-weight="bold" fill="#111" >memTNF T cells</text>
<text x="326.2" y="293.5" font-size="15.5" text-anchor="start" font-weight="bold" fill="#111" >H</text>
<line x1="358" y1="292.6" x2="358" y2="372" stroke="#111" stroke-width="1.5" />
<line x1="354.6" y1="371.2" x2="358" y2="371.2" stroke="#111" stroke-width="1.4" />
<text x="354.2" y="373.59999999999997" font-size="6.6" text-anchor="end" font-weight="normal" fill="#111" stroke="#111" stroke-width="0.3">0</text>
<line x1="354.6" y1="360.07" x2="358" y2="360.07" stroke="#111" stroke-width="1.4" />
<text x="354.2" y="362.46999999999997" font-size="6.6" text-anchor="end" font-weight="normal" fill="#111" stroke="#111" stroke-width="0.3">10</text>
<line x1="354.6" y1="348.94" x2="358" y2="348.94" stroke="#111" stroke-width="1.4" />
<text x="354.2" y="351.34" font-size="6.6" text-anchor="end" font-weight="normal" fill="#111" stroke="#111" stroke-width="0.3">20</text>
<line x1="354.6" y1="337.81" x2="358" y2="337.81" stroke="#111" stroke-width="1.4" />
<text x="354.2" y="340.21" font-size="6.6" text-anchor="end" font-weight="normal" fill="#111" stroke="#111" stroke-width="0.3">30</text>
<line x1="354.6" y1="326.68" x2="358" y2="326.68" stroke="#111" stroke-width="1.4" />
<text x="354.2" y="329.08" font-size="6.6" text-anchor="end" font-weight="normal" fill="#111" stroke="#111" stroke-width="0.3">40</text>
<line x1="354.6" y1="315.54999999999995" x2="358" y2="315.54999999999995" stroke="#111" stroke-width="1.4" />
<text x="354.2" y="317.94999999999993" font-size="6.6" text-anchor="end" font-weight="normal" fill="#111" stroke="#111" stroke-width="0.3">50</text>
<line x1="354.6" y1="304.41999999999996" x2="358" y2="304.41999999999996" stroke="#111" stroke-width="1.4" />
<text x="354.2" y="306.81999999999994" font-size="6.6" text-anchor="end" font-weight="normal" fill="#111" stroke="#111" stroke-width="0.3">60</text>
<line x1="354.6" y1="293.28999999999996" x2="358" y2="293.28999999999996" stroke="#111" stroke-width="1.4" />
<text x="354.2" y="295.68999999999994" font-size="6.6" text-anchor="end" font-weight="normal" fill="#111" stroke="#111" stroke-width="0.3">70</text>
<line x1="357.3" y1="371.3" x2="476.4" y2="371.3" stroke="#111" stroke-width="1.5" />
<line x1="374.5" y1="371.3" x2="374.5" y2="374.2" stroke="#111" stroke-width="1.4" />
<line x1="404.2" y1="371.3" x2="404.2" y2="374.2" stroke="#111" stroke-width="1.4" />
<line x1="434.2" y1="371.3" x2="434.2" y2="374.2" stroke="#111" stroke-width="1.4" />
<line x1="463.5" y1="371.3" x2="463.5" y2="374.2" stroke="#111" stroke-width="1.4" />
<text transform="translate(344.2,332.2) rotate(-90)" font-size="7.9" text-anchor="middle" font-weight="bold" fill="#111">CYTOLYSIS (%)</text>
<polyline points="373.1,369 402.4,369.2 431.9,369.9 461.4,371" fill="none" stroke="#b2b2b2" stroke-width="1.4" stroke-dasharray="1.6,1.2"/>
<polyline points="373.1,369.5 402.4,369.6 431.9,370.2 461.4,371.2" fill="none" stroke="#6a6a6a" stroke-width="1.1" stroke-dasharray="1.6,1.2"/>
<polygon points="373.1,366.7 371.6,369.4 374.6,369.4" fill="#eee" stroke="#b2b2b2" stroke-width="0.8"/>
<polygon points="402.4,366.9 400.9,369.59999999999997 403.9,369.59999999999997" fill="#eee" stroke="#b2b2b2" stroke-width="0.8"/>
<polygon points="431.9,367.59999999999997 430.4,370.29999999999995 433.4,370.29999999999995" fill="#eee" stroke="#b2b2b2" stroke-width="0.8"/>
<polygon points="461.4,368.7 459.9,371.4 462.9,371.4" fill="#eee" stroke="#b2b2b2" stroke-width="0.8"/>
<circle cx="373.1" cy="369.5" r="1.1" fill="#ddd" stroke="#6a6a6a" stroke-width="0.7"/>
<circle cx="402.4" cy="369.6" r="1.1" fill="#ddd" stroke="#6a6a6a" stroke-width="0.7"/>
<circle cx="431.9" cy="370.2" r="1.1" fill="#ddd" stroke="#6a6a6a" stroke-width="0.7"/>
<circle cx="461.4" cy="371.2" r="1.1" fill="#ddd" stroke="#6a6a6a" stroke-width="0.7"/>
<polyline points="373.1,304.8 402.4,316.4 431.9,331.3 461.4,331.4" fill="none" stroke="#b2b2b2" stroke-width="1.7"/>
<polygon points="373.1,302.8 371.1,306.40000000000003 375.1,306.40000000000003" fill="#b2b2b2" stroke="#b2b2b2" stroke-width="0.8"/>
<polygon points="402.4,314.4 400.4,318.0 404.4,318.0" fill="#b2b2b2" stroke="#b2b2b2" stroke-width="0.8"/>
<polygon points="431.9,329.3 429.9,332.90000000000003 433.9,332.90000000000003" fill="#b2b2b2" stroke="#b2b2b2" stroke-width="0.8"/>
<polygon points="461.4,329.4 459.4,333.0 463.4,333.0" fill="#b2b2b2" stroke="#b2b2b2" stroke-width="0.8"/>
<polyline points="373.1,314.2 402.4,311.7 431.9,331.4 461.4,342.9" fill="none" stroke="#6a6a6a" stroke-width="1.7"/>
<circle cx="373.1" cy="314.2" r="2.2" fill="#6a6a6a"/>
<circle cx="402.4" cy="311.7" r="2.2" fill="#6a6a6a"/>
<circle cx="431.9" cy="331.4" r="2.2" fill="#6a6a6a"/>
<circle cx="461.4" cy="342.9" r="2.2" fill="#6a6a6a"/>
<text x="374.0" y="382.7" font-size="6.6" text-anchor="middle" font-weight="bold" fill="#111" >50:1</text>
<text x="403.7" y="382.7" font-size="6.6" text-anchor="middle" font-weight="bold" fill="#111" >25:1</text>
<text x="433.7" y="382.7" font-size="6.6" text-anchor="middle" font-weight="bold" fill="#111" >12.5:1</text>
<text x="463.0" y="382.7" font-size="6.6" text-anchor="middle" font-weight="bold" fill="#111" >6.25:1</text>
<text x="416.3" y="392.1" font-size="7.3" text-anchor="middle" font-weight="bold" fill="#111" >E/T RATIO</text>
<line x1="452.2" y1="292.4" x2="464.5" y2="292.4" stroke="#6a6a6a" stroke-width="1.9" />
<circle cx="458.7" cy="292.4" r="2.2" fill="#6a6a6a"/>
<line x1="452.2" y1="302.8" x2="464.5" y2="302.8" stroke="#b2b2b2" stroke-width="1.9" />
<polygon points="458.7,300.8 456.7,304.40000000000003 460.7,304.40000000000003" fill="#b2b2b2" stroke="#b2b2b2" stroke-width="0.8"/>
<line x1="452.2" y1="313.6" x2="464.5" y2="313.6" stroke="#444" stroke-width="1.4" stroke-dasharray="1.5,1.3"/>
<circle cx="458.7" cy="313.6" r="1.9" fill="#fff" stroke="#444" stroke-width="1.1"/>
<line x1="452.2" y1="323.7" x2="464.5" y2="323.7" stroke="#b2b2b2" stroke-width="1.4" stroke-dasharray="1.5,1.3"/>
<polygon points="458.7,321.59999999999997 456.59999999999997,325.38 460.8,325.38" fill="#fff" stroke="#b2b2b2" stroke-width="1.0"/>
<text x="466.9" y="295.2" font-size="7.2" text-anchor="start" font-weight="bold" fill="#111" >wt P815</text>
<text x="466.9" y="305.6" font-size="7.2" text-anchor="start" font-weight="bold" fill="#111" >memTNF P815</text>
<text x="466.9" y="316" font-size="7.2" text-anchor="start" font-weight="bold" fill="#111" >wt EL4</text>
<text x="466.9" y="326.3" font-size="7.2" text-anchor="start" font-weight="bold" fill="#111" >memTNF EL4</text>
</svg>
</body></html>
